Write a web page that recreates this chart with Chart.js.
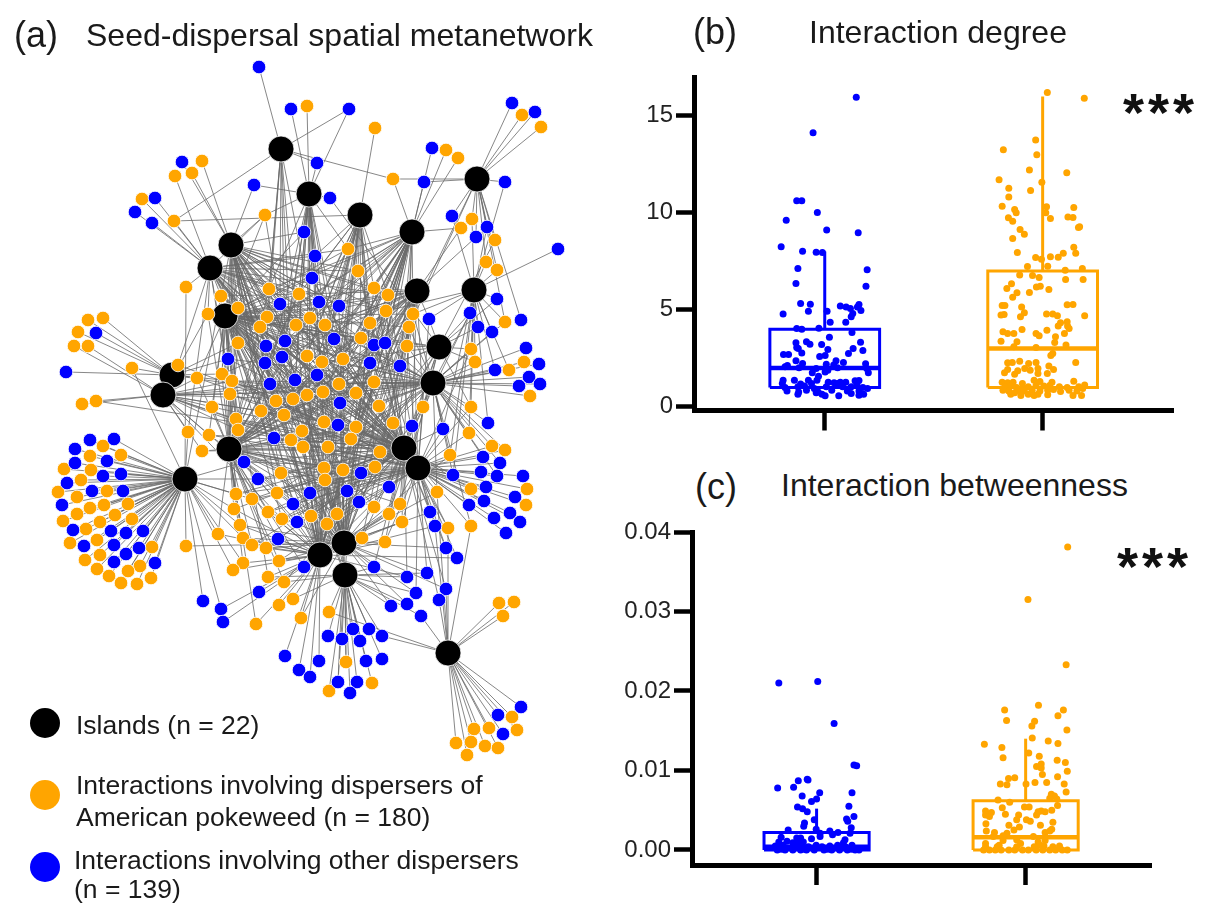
<!DOCTYPE html>
<html lang="en">
<head>
  <meta charset="UTF-8">
  <title>Seed-dispersal spatial metanetwork</title>
  <script src="https://cdn.jsdelivr.net/npm/chart.js"></script>
  <style>
    body { margin: 0; background: #fff; overflow: hidden; font-family: "Liberation Sans", Arial, sans-serif; color: #1a1a1a; }
    canvas { position: absolute; }
    .txt { position: absolute; white-space: nowrap; line-height: 1; }
    .dot { position: absolute; width: 30px; height: 30px; border-radius: 50%; }
  </style>
</head>
<body>
  <canvas id="network" width="640" height="903" style="left:0;top:0"></canvas>
  <canvas id="degree" width="612" height="400" style="left:610px;top:50px"></canvas>
  <canvas id="betweenness" width="612" height="393" style="left:610px;top:510px"></canvas>

  <div class="txt" style="left:14px;top:17px;font-size:36px">(a)</div>
  <div class="txt" style="left:86px;top:19px;font-size:32px">Seed-dispersal spatial metanetwork</div>
  <div class="txt" style="left:693px;top:14px;font-size:36px">(b)</div>
  <div class="txt" style="left:809px;top:16px;font-size:32px">Interaction degree</div>
  <div class="txt" style="left:695px;top:469px;font-size:36px">(c)</div>
  <div class="txt" style="left:781px;top:469px;font-size:32px">Interaction betweenness</div>
  <div class="txt" style="left:1123px;top:85px;font-size:54px;font-weight:bold;letter-spacing:4px;color:#111">***</div>
  <div class="txt" style="left:1117px;top:539px;font-size:54px;font-weight:bold;letter-spacing:4px;color:#111">***</div>

  <div class="dot" style="left:30px;top:708px;background:#000"></div>
  <div class="dot" style="left:30px;top:780px;background:#ffa500"></div>
  <div class="dot" style="left:30px;top:852px;background:#0000ff"></div>
  <div class="txt" style="left:76px;top:712px;font-size:26.5px">Islands (n = 22)</div>
  <div class="txt" style="left:76px;top:772px;font-size:26.5px">Interactions involving dispersers of</div>
  <div class="txt" style="left:76px;top:804px;font-size:26.5px">American pokeweed (n = 180)</div>
  <div class="txt" style="left:74px;top:847px;font-size:26.5px">Interactions involving other dispersers</div>
  <div class="txt" style="left:74px;top:876px;font-size:26.5px">(n = 139)</div>

  <script>
    // network layout: x, y, letters of the linked islands
    const islandNodes = {
      a: [281,149], b: [309,194], c: [360,215], d: [412,232], e: [477,179], f: [231,245],
      g: [210,268], h: [417,291], i: [474,290], j: [225,316], k: [439,347], l: [172,375],
      m: [163,395], n: [433,383], o: [229,449], p: [185,479], q: [404,448], r: [418,468],
      s: [344,543], t: [320,555], u: [345,575], v: [448,653]
    };

    const orangeTop = [
      [307,106,'b'],[375,128,'c'],[522,115,'e'],[541,127,'e'],[446,150,'d'],[458,158,'d'],[202,161,'f'],
      [175,176,'g'],[192,173,'f'],[393,179,'aed'],[142,199,'g'],[265,215,'fgbtj'],[174,221,'acg'],
      [472,219,'ei'],[461,228,'hd'],[495,240,'ek'],[348,249,'bdgjo'],[486,262,'ei'],[497,270,'ei'],
      [358,271,'cdfqgr'],[186,287,'gp'],[103,318,'l'],[88,320,'l'],[78,332,'l'],[74,346,'m'],[88,346,'m']
    ];
    const orangeMiddle = [
      [269,289,'abfgoqrsdn'],[299,294,'bcfgjrtqo'],[374,288,'cdfhqsjo'],[388,295,'cdhjrtfg'],[221,296,'fgopqh'],
      [238,308,'fgjortdq'],[208,314,'gjmo'],[386,311,'dhiqosgf'],[413,314,'dhinrjo'],[267,317,'afjoqsnh'],
      [310,318,'bcfjqurn'],[296,325,'abgjrtkd'],[325,325,'bcjhosqg'],[260,327,'fgjqrtdh'],[370,323,'cdhjqsfo'],
      [409,327,'dehnqjo'],[505,322,'ein'],[361,338,'cdjkruof'],[407,346,'dhknrjo'],[238,343,'fjlosqd'],
      [471,349,'iknr'],[132,368,'lp'],[178,365,'lgq'],[82,404,'m'],[96,401,'mq'],[197,378,'jlmoq'],
      [222,374,'jfloqrh'],[232,381,'fjmorqn'],[230,394,'gmoqrn'],[307,356,'bcjoqgnt'],[322,362,'achorsfk'],
      [343,359,'bcdhjsot'],[339,384,'cdjorsgn'],[374,382,'dhjnotfm'],[323,392,'bfmqstnd'],[307,395,'cgjrsukh'],
      [356,393,'dhlotqg'],[293,399,'afjmqsnd'],[276,401,'bfjnrujh'],[212,407,'jmoq'],[379,406,'dhlqsfj'],
      [423,407,'hknqrt'],[471,407,'iknr'],[261,411,'bfjqrsnk'],[284,415,'cgmrstdn'],[236,419,'fjmoqr'],
      [324,422,'bchjqstg'],[356,427,'dhmotjr'],[393,423,'hknoqfs'],[475,362,'ikn'],[509,370,'in'],
      [524,362,'n'],[530,396,'n'],[238,430,'gmorqs'],[188,432,'gmp'],[209,435,'jmoqr'],[302,431,'dfjostn'],
      [291,440,'bhjqtnr'],[303,447,'cfmqtdu'],[328,447,'dgjothn'],[351,439,'ehoqsfj'],[380,452,'hkoqjt'],
      [469,433,'inr'],[202,451,'moq'],[450,455,'inrs'],[492,446,'nr'],[505,450,'nr'],[324,468,'cgostqn'],
      [343,470,'dfqstjo'],[375,467,'hmqsco'],[281,473,'fjostqr'],[325,480,'bjqrtgk'],[437,492,'nrvt'],
      [471,489,'rq'],[527,489,'r'],[526,505,'r'],[236,494,'jopqr'],[277,493,'fmrsqn'],[252,499,'optqr'],
      [234,509,'ptqo'],[374,507,'hqsjo'],[400,504,'kqsto'],[268,512,'ostqr'],[282,519,'jqtrm'],[311,516,'fostrq'],
      [337,514,'cqsor'],[327,524,'hqtor'],[389,514,'qrsnt'],[402,522,'rstq'],[240,525,'ptos'],[218,534,'pto'],
      [448,528,'rvq'],[471,526,'qvn'],[362,538,'hsqt'],[385,542,'qsrt'],[243,538,'otsp'],[252,545,'otsq'],
      [266,548,'qtso'],[186,546,'ps'],[279,561,'rtso'],[243,563,'pto'],[233,570,'tp'],[268,577,'jtu'],
      [284,582,'ouq'],[293,599,'tu'],[279,605,'t'],[329,612,'uv'],[301,618,'ts'],[256,624,'ot'],
      [499,603,'v'],[514,602,'v'],[503,616,'v'],[346,662,'su'],[372,683,'u'],[329,691,'u']
    ];
    const orangeLeft = [
      [103,446,'p'],[90,456,'p'],[121,455,'p'],[64,469,'p'],[91,470,'p'],[81,480,'p'],[58,492,'p'],
      [107,491,'p'],[77,497,'p'],[104,505,'p'],[90,508,'p'],[128,504,'p'],[115,515,'p'],[77,514,'p'],
      [63,521,'p'],[132,519,'p'],[100,522,'p'],[86,529,'p'],[97,540,'p'],[70,543,'p'],[152,547,'p'],
      [100,555,'p'],[85,560,'p'],[140,566,'p'],[128,571,'p'],[97,569,'p'],[109,576,'p'],[151,578,'p'],
      [121,583,'p'],[137,584,'p']
    ];
    const orangeBottom = [
      [474,729,'v'],[489,728,'v'],[512,717,'v'],[517,730,'v'],[456,743,'v'],[471,742,'v'],[485,746,'v'],
      [498,748,'v'],[467,755,'v']
    ];

    const blueTop = [
      [259,67,'a'],[291,109,'b'],[349,109,'ab'],[512,103,'e'],[535,112,'e'],[432,148,'d'],[182,162,'f'],
      [317,163,'ab'],[254,185,'fb'],[424,182,'ed'],[505,182,'ei'],[330,198,'bk'],[155,198,'g'],[135,212,'g'],
      [152,223,'g'],[452,216,'ei'],[487,227,'ei'],[476,237,'eh'],[304,232,'bfj'],[315,256,'bcgo'],[558,249,'i'],
      [312,278,'bcfrjq'],[497,299,'ik'],[280,304,'afjqrn'],[319,302,'bcjrogs'],[339,306,'cdfsjn'],[470,313,'inkq'],
      [429,319,'hikr'],[521,320,'e'],[478,327,'ik'],[492,332,'in'],[526,348,'n'],[96,333,'l']
    ];
    const blueMiddle = [
      [285,341,'afjqsnd'],[266,346,'fjorhn'],[334,339,'bdjqgo'],[374,345,'cdhjot'],[385,343,'dhjqfo'],[66,372,'l'],
      [228,359,'fjloqn'],[265,363,'afjrdt'],[282,357,'bgjqhs'],[370,363,'dhjsoc'],[400,366,'dhnoj'],[495,370,'in'],
      [539,364,'n'],[529,377,'n'],[540,384,'n'],[519,386,'n'],[270,384,'fmoqnd'],[295,380,'bjqsgh'],
      [317,375,'cfortnh'],[340,403,'chjsgq'],[338,425,'dfqtgj'],[412,426,'hknqo'],[443,429,'inrq'],[488,423,'in'],
      [274,438,'fjqtrn'],[244,462,'jopqr'],[258,479,'opqrt'],[361,473,'hjqsot'],[389,487,'hkqot'],[310,493,'bjstqr'],
      [347,491,'dqstor'],[359,502,'hqstj'],[293,504,'fotqr'],[297,522,'jtqo'],[453,475,'inrq'],[483,457,'nr'],
      [500,463,'nr'],[481,472,'r'],[497,476,'nr'],[486,487,'r'],[523,476,'r'],[484,501,'r'],[469,505,'r'],
      [515,497,'r'],[510,513,'r'],[494,518,'r'],[520,522,'r'],[506,533,'r'],[430,512,'qrs'],[435,526,'rvt'],
      [446,548,'qrs'],[457,558,'rt'],[278,539,'otq'],[304,567,'ots'],[374,567,'qus'],[407,577,'qut'],[427,573,'rus'],
      [446,589,'qvs'],[416,593,'sur'],[439,600,'qv'],[407,604,'su'],[391,606,'su'],[421,616,'uv'],[259,592,'t'],
      [203,601,'p'],[221,609,'pt'],[223,622,'t']
    ];
    const blueBottom = [
      [328,636,'u'],[342,639,'u'],[353,629,'u'],[369,629,'u'],[382,636,'uv'],[360,641,'u'],[285,656,'t'],
      [319,661,'t'],[366,661,'u'],[382,659,'u'],[299,670,'t'],[310,677,'t'],[338,682,'su'],[357,682,'u'],
      [350,693,'u'],[498,715,'v'],[521,707,'v'],[503,734,'v']
    ];
    const blueLeft = [
      [90,440,'p'],[114,439,'p'],[75,449,'p'],[75,463,'p'],[107,461,'p'],[103,476,'p'],[121,474,'p'],
      [67,483,'p'],[92,491,'p'],[123,491,'p'],[62,505,'p'],[73,530,'p'],[111,531,'p'],[126,533,'p'],
      [143,531,'p'],[84,546,'p'],[114,545,'p'],[139,548,'p'],[126,554,'p'],[114,562,'p'],[155,563,'p']
    ];

    // strip points of panel b, x is the horizontal jitter position
    const degreeBlueX = [633,522,480,493,533,453,557,638,440,495,530,546,483,661,478,658,490,515,592,607,618,640,636,645,624,620,445,510,558,566,606,480,493,537,622,564,478,480,505,514,544,644,484,560,625,650,446,459,493,613,539,553,478,495,456,581,600,657,556,575,450,486,530,560,585,660,664,553,520,536,445,474,510,532,561,592,606,630,640,443,490,518,576,585,635,450,483,500,525,556,598,620,650,662,455,485,505,535,570,610,640,483,545,553,588,620,640,652,530];
    const degreeBlueY = [15.95,14.12,10.62,10.62,10.02,9.62,9.11,8.97,8.25,8.02,7.97,7.96,7.13,7.06,6.36,6.22,5.33,5.29,5.19,5.15,5.07,5.27,5.15,4.97,4.81,4.64,4.79,4.93,4.93,4.36,4.36,4.04,4.0,4.05,3.83,3.59,3.3,3.06,3.35,3.23,3.21,3.33,3.0,2.96,3.0,2.9,2.7,2.7,2.78,2.75,2.59,2.65,2.37,2.23,2.13,2.37,2.29,2.22,2.2,2.15,2.06,2.01,1.98,1.89,2.01,1.98,1.75,1.8,1.75,1.58,1.37,1.37,1.37,1.37,1.27,1.27,1.27,1.34,1.36,1.2,1.17,1.2,1.24,1.2,1.17,1.0,1.03,1.07,0.95,1.03,1.03,1.03,1.0,0.95,0.82,0.77,0.86,0.77,0.86,0.82,0.82,0.65,0.65,0.57,0.57,0.69,0.6,0.65,0.72];
    const degreeOrangeX = [1124,1219,1094,1011,1097,1078,1174,1000,1110,1025,1081,1025,1008,1122,1192,1040,1044,1120,1024,1035,1132,1177,1190,1054,1065,1204,1207,1035,1192,1047,1197,1165,1152,1132,1094,1109,1073,1125,1214,1170,1053,1086,1103,1171,1216,1032,1020,1106,1096,1128,1078,1046,1035,1175,1190,1008,1015,1058,1065,1122,1138,1150,1005,1013,1055,1220,1175,1158,1152,1176,1180,1123,1059,1010,1022,1038,1095,1103,1168,1145,1005,1046,1143,1172,1038,1095,1138,1133,1022,1034,1053,1076,1095,1197,1128,1140,1066,1022,1100,1048,1080,1014,1040,1100,1124,1192,1008,1022,1036,1060,1090,1105,1136,1015,1030,1045,1075,1095,1115,1130,1155,1175,1205,1220,1025,1050,1065,1085,1105,1125,1158,1180,1200,1030,1056,1075,1090,1100,1125,1190,1212,1040,1010,1140,1215];
    const degreeOrangeY = [16.2,15.91,13.75,13.25,12.99,12.2,12.06,11.7,11.58,11.27,11.15,10.81,10.34,10.31,10.27,10.17,10.0,10.0,9.74,9.57,9.71,9.79,9.76,9.14,8.9,9.24,9.28,8.68,8.23,7.96,7.92,7.92,7.71,7.73,7.7,7.61,7.23,7.25,7.13,7.04,6.79,6.77,6.67,6.56,6.56,6.34,6.1,6.22,6.17,6.05,5.89,5.88,5.65,5.26,5.27,5.22,5.22,5.15,4.85,4.79,4.79,4.69,4.73,4.76,4.64,4.69,4.38,4.33,4.16,4.16,4.04,3.95,3.99,3.87,3.78,3.78,3.78,3.66,3.78,3.61,3.38,3.35,3.32,3.18,3.09,3.06,2.75,2.65,2.27,2.29,2.35,2.23,2.29,2.29,2.1,1.92,1.98,1.92,1.98,1.86,1.89,1.75,1.68,1.72,1.72,1.32,1.27,1.24,1.27,1.2,1.37,1.31,1.27,1.03,1.07,1.0,1.03,1.1,1.07,1.1,1.03,1.0,1.03,1.12,0.82,0.86,0.82,0.86,0.82,0.86,0.79,0.86,0.82,0.65,0.58,0.65,0.58,0.65,0.62,0.58,0.58,0.72,0.86,0.89,0.95];

    // strip points of panel c
    const betweenBlueX = [534,434,576,627,634,507,509,484,472,431,622,539,494,531,518,482,614,495,507,627,608,611,525,500,498,620,458,530,565,586,540,572,617,540,440,480,490,518,604,434,455,470,485,497,600,425,445,475,510,530,545,565,585,622,605,430,450,470,490,505,525,550,570,590,610,630,640,440,500,560,620];
    const betweenBlueY = [0.0212,0.021,0.0159,0.0107,0.0106,0.0089,0.0088,0.0087,0.0079,0.0078,0.0072,0.0072,0.0068,0.0064,0.0061,0.0054,0.0055,0.0052,0.0048,0.0042,0.0039,0.0036,0.0038,0.0034,0.003,0.0028,0.0025,0.0026,0.0024,0.0022,0.0021,0.0019,0.0021,0.0017,0.0016,0.0015,0.0015,0.0014,0.0013,0.001,0.0011,0.0009,0.001,0.001,0.0009,0.0005,0.0006,0.0006,0.0004,0.0006,0.0004,0.0005,0.0006,0.0006,0.0004,0,0,0,0,0,0,0,0,0,0,0,0,0.0001,0.0001,0.0001,0.0001];
    const betweenOrangeX = [1176,1074,1172,1101,1014,1165,1151,1019,1091,1084,1174,1085,1126,1151,962,1007,1076,1103,1010,1149,1170,1108,1096,1108,1175,1111,1150,1040,1024,1092,1122,1167,1020,1003,1069,1172,1134,1142,1130,1148,997,1027,1150,1008,1065,1077,965,980,1135,1100,1108,1118,1050,965,1016,975,1096,1045,1070,1080,1138,1025,966,1106,1052,1038,1135,967,988,1020,1118,1130,1010,985,1088,1045,1010,1100,1118,965,1055,1000,1105,1155,1138,965,995,1045,1090,1115,960,975,990,1005,1025,1040,1060,1075,1095,1112,1130,1145,1162,1175];
    const betweenOrangeY = [0.0381,0.0315,0.0233,0.0182,0.0176,0.0176,0.0169,0.0163,0.0162,0.0156,0.0151,0.0141,0.0137,0.0134,0.0133,0.0129,0.0122,0.0118,0.0116,0.0113,0.011,0.0108,0.0105,0.0103,0.0099,0.0095,0.0092,0.0091,0.009,0.0085,0.0085,0.0083,0.0082,0.0083,0.0083,0.0073,0.007,0.0068,0.0065,0.0064,0.0063,0.006,0.0056,0.0053,0.0054,0.0054,0.0049,0.0047,0.005,0.0048,0.0049,0.0048,0.0044,0.0044,0.0045,0.0042,0.0044,0.0038,0.0038,0.0036,0.0035,0.0031,0.0033,0.0031,0.0029,0.0025,0.0026,0.0024,0.0022,0.0021,0.0022,0.0024,0.0018,0.0017,0.0017,0.0013,0.0012,0.001,0.0012,0.0008,0.0008,0.0006,0.0006,0.0005,0.0004,0.0004,0.0004,0.0004,0.0004,0.0005,0,0,0,0,0,0,0,0,0,0,0,0,0,0];

    const degreeCenters = [552, 1112];
    const degreeHalfBox = 141;
    const degreeQ1 = [1, 1];
    const degreeMedian = [2, 3];
    const degreeQ3 = [4, 7];
    const degreeWhisker = [8, 16];
    const degreeTicks = [0, 5, 10, 15];

    const betweenCenters = [531, 1068];
    const betweenHalfBox = 135;
    const betweenQ1 = [0, 0];
    const betweenMedian = [0.0004, 0.0016];
    const betweenQ3 = [0.0022, 0.0062];
    const betweenWhisker = [0.0052, 0.014];
    const betweenTicks = [0, 0.01, 0.02, 0.03, 0.04];

    const BLUE = '#0000ff';
    const ORANGE = '#ffa500';

    Chart.defaults.font.family = '"Liberation Sans", Arial, sans-serif';
    Chart.defaults.animation = false;

    const orangeNodes = [...orangeTop, ...orangeMiddle, ...orangeLeft, ...orangeBottom];
    const blueNodes = [...blueTop, ...blueMiddle, ...blueBottom, ...blueLeft];

    // every link is one short piece of a single broken line
    const edgePoints = [];
    [...orangeNodes, ...blueNodes].forEach(node => {
      node[2].split('').forEach(letter => {
        const island = islandNodes[letter];
        edgePoints.push({x: island[0], y: island[1]}, {x: node[0], y: node[1]}, {x: null, y: null});
      });
    });

    function nodePoints(list) {
      return list.map(n => ({x: n[0], y: n[1]}));
    }

    new Chart(document.getElementById('network'), {
      type: 'scatter',
      data: {
        datasets: [
          { data: edgePoints, showLine: true, spanGaps: false, pointRadius: 0, borderColor: 'rgba(105,105,105,0.8)', borderWidth: 1, order: 4 },
          { data: nodePoints(Object.values(islandNodes)), backgroundColor: '#000', borderColor: 'rgba(255,255,255,0.8)', borderWidth: 1, pointRadius: 13, order: 3 },
          { data: nodePoints(orangeNodes), backgroundColor: ORANGE, borderColor: 'rgba(255,255,255,0.8)', borderWidth: 1, pointRadius: 6.8, order: 2 },
          { data: nodePoints(blueNodes), backgroundColor: BLUE, borderColor: 'rgba(255,255,255,0.8)', borderWidth: 1, pointRadius: 6.8, order: 1 }
        ]
      },
      options: {
        responsive: false,
        layout: { autoPadding: false },
        plugins: { legend: { display: false }, tooltip: { enabled: false } },
        scales: {
          x: { display: false, min: 0, max: 640 },
          y: { display: false, min: 0, max: 903, reverse: true }
        }
      }
    });

    function zip(xs, ys) {
      return xs.map((x, i) => ({x: x, y: ys[i]}));
    }

    // box outline, median and upper whisker of one group as line datasets
    function boxDatasets(center, half, q1, median, q3, whisker, color) {
      const line = (data, width) => ({ data: data, showLine: true, pointRadius: 0, borderColor: color, borderWidth: width, order: 2 });
      return [
        line([{x: center - half, y: q1}, {x: center + half, y: q1}, {x: center + half, y: q3}, {x: center - half, y: q3}, {x: center - half, y: q1}], 3),
        line([{x: center - half, y: median}, {x: center + half, y: median}], 4.5),
        line([{x: center, y: q3}, {x: center, y: whisker}], 3)
      ];
    }

    function stripChart(id, cfg) {
      const datasets = [
        { data: zip(cfg.blueX, cfg.blueY), backgroundColor: BLUE, borderWidth: 0, pointRadius: 3.5, order: 1 },
        { data: zip(cfg.orangeX, cfg.orangeY), backgroundColor: ORANGE, borderWidth: 0, pointRadius: 3.5, order: 1 },
        ...boxDatasets(cfg.centers[0], cfg.half, cfg.q1[0], cfg.median[0], cfg.q3[0], cfg.whisker[0], BLUE),
        ...boxDatasets(cfg.centers[1], cfg.half, cfg.q1[1], cfg.median[1], cfg.q3[1], cfg.whisker[1], ORANGE)
      ];
      new Chart(document.getElementById(id), {
        type: 'scatter',
        data: { datasets: datasets },
        options: {
          responsive: false,
          layout: { padding: cfg.padding, autoPadding: false },
          plugins: { legend: { display: false }, tooltip: { enabled: false } },
          scales: {
            x: {
              min: cfg.xMin, max: cfg.xMax,
              afterFit: s => { s.height = cfg.axisHeight; },
              afterBuildTicks: s => { s.ticks = cfg.centers.map(v => ({value: v})); },
              ticks: { callback: () => '', autoSkip: false, maxRotation: 0 },
              grid: { drawOnChartArea: false, tickLength: 20, tickWidth: 4.5, tickColor: '#000' },
              border: { color: '#000', width: 5 }
            },
            y: {
              min: cfg.yMin, max: cfg.yMax,
              afterFit: s => { s.width = cfg.axisWidth; },
              afterBuildTicks: s => { s.ticks = cfg.ticks.map(v => ({value: v})); },
              ticks: { callback: cfg.format, autoSkip: false, padding: 3, color: '#222', font: { size: 24 } },
              grid: { drawOnChartArea: false, tickLength: 18, tickWidth: 4.5, tickColor: '#000' },
              border: { color: '#000', width: 5 }
            }
          }
        }
      });
    }

    stripChart('degree', {
      blueX: degreeBlueX, blueY: degreeBlueY, orangeX: degreeOrangeX, orangeY: degreeOrangeY,
      centers: degreeCenters, half: degreeHalfBox, q1: degreeQ1, median: degreeMedian, q3: degreeQ3, whisker: degreeWhisker,
      ticks: degreeTicks, format: v => String(v),
      xMin: 216, xMax: 1447, yMin: -0.19, yMax: 17,
      axisWidth: 84, axisHeight: 39.5, padding: { top: 27, right: 49 }
    });

    stripChart('betweenness', {
      blueX: betweenBlueX, blueY: betweenBlueY, orangeX: betweenOrangeX, orangeY: betweenOrangeY,
      centers: betweenCenters, half: betweenHalfBox, q1: betweenQ1, median: betweenMedian, q3: betweenQ3, whisker: betweenWhisker,
      ticks: betweenTicks, format: v => v.toFixed(2),
      xMin: 211, xMax: 1390, yMin: -0.00189, yMax: 0.04,
      axisWidth: 82, axisHeight: 38, padding: { top: 22, right: 71 }
    });
  </script>
</body>
</html>
